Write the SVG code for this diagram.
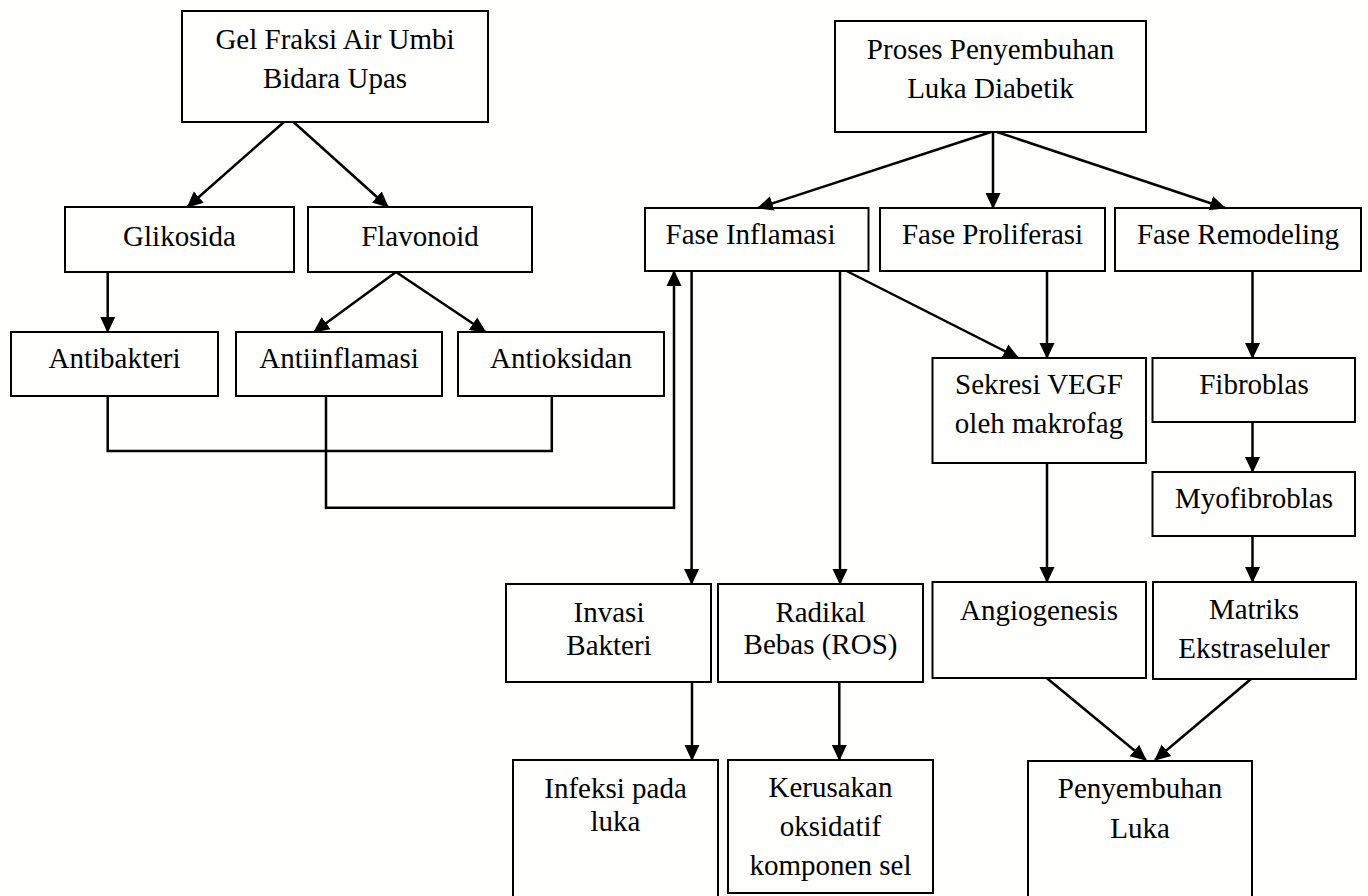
<svg xmlns="http://www.w3.org/2000/svg" width="1368" height="896" viewBox="0 0 1368 896">
  <defs>
    <marker id="arrow" markerUnits="userSpaceOnUse" markerWidth="16" markerHeight="16" refX="15" refY="8" orient="auto">
      <path d="M0,0.5 L16,8 L0,15.5 z" fill="#000"/>
    </marker>
    <style>
      .box { fill: none; stroke: #000; stroke-width: 2; }
      .lbl { font-family: "Liberation Serif", "Times New Roman", serif; font-size: 29px; fill: #000; text-anchor: middle; }
      .edge { fill: none; stroke: #000; stroke-width: 2.5; }
      .arr { marker-end: url(#arrow); }
    </style>
  </defs>
  <rect width="1368" height="896" fill="#fefefc"/>

  <!-- left branch: gel and its compounds -->
  <g id="gel">
    <rect class="box" x="182" y="11" width="306" height="111"/>
    <text class="lbl" x="335" y="49">Gel Fraksi Air Umbi</text>
    <text class="lbl" x="335" y="88">Bidara Upas</text>
  </g>
  <g id="glikosida">
    <rect class="box" x="65" y="207" width="229" height="65"/>
    <text class="lbl" x="179.5" y="246">Glikosida</text>
  </g>
  <g id="flavonoid">
    <rect class="box" x="308" y="207" width="224" height="65"/>
    <text class="lbl" x="420" y="246">Flavonoid</text>
  </g>
  <g id="antibakteri">
    <rect class="box" x="11" y="332" width="207" height="64"/>
    <text class="lbl" x="114.5" y="368">Antibakteri</text>
  </g>
  <g id="antiinflamasi">
    <rect class="box" x="236" y="332" width="206" height="64"/>
    <text class="lbl" x="339" y="368">Antiinflamasi</text>
  </g>
  <g id="antioksidan">
    <rect class="box" x="458" y="332" width="206" height="64"/>
    <text class="lbl" x="561" y="368">Antioksidan</text>
  </g>

  <!-- right branch: healing phases -->
  <g id="proses">
    <rect class="box" x="835" y="21" width="311" height="111"/>
    <text class="lbl" x="990.5" y="59">Proses Penyembuhan</text>
    <text class="lbl" x="990.5" y="98">Luka Diabetik</text>
  </g>
  <g id="fase-inflamasi">
    <rect class="box" x="645" y="208" width="223.5" height="63"/>
    <text class="lbl" x="750.5" y="244">Fase Inflamasi</text>
  </g>
  <g id="fase-proliferasi">
    <rect class="box" x="880" y="208" width="225" height="63"/>
    <text class="lbl" x="992.5" y="244">Fase Proliferasi</text>
  </g>
  <g id="fase-remodeling">
    <rect class="box" x="1115" y="208" width="246" height="63"/>
    <text class="lbl" x="1238" y="244">Fase Remodeling</text>
  </g>
  <g id="sekresi-vegf">
    <rect class="box" x="932.5" y="358" width="213.5" height="105"/>
    <text class="lbl" x="1039" y="394">Sekresi VEGF</text>
    <text class="lbl" x="1039" y="433">oleh makrofag</text>
  </g>
  <g id="fibroblas">
    <rect class="box" x="1152.5" y="358" width="202.5" height="64"/>
    <text class="lbl" x="1254" y="394">Fibroblas</text>
  </g>
  <g id="myofibroblas">
    <rect class="box" x="1152.5" y="472" width="202.5" height="64"/>
    <text class="lbl" x="1254" y="508">Myofibroblas</text>
  </g>
  <g id="invasi-bakteri">
    <rect class="box" x="506" y="584" width="205" height="98"/>
    <text class="lbl" x="609" y="622">Invasi</text>
    <text class="lbl" x="609" y="655">Bakteri</text>
  </g>
  <g id="radikal-bebas">
    <rect class="box" x="718" y="584" width="205" height="98"/>
    <text class="lbl" x="820.5" y="622">Radikal</text>
    <text class="lbl" x="820.5" y="654">Bebas (ROS)</text>
  </g>
  <g id="angiogenesis">
    <rect class="box" x="932.5" y="582" width="213.5" height="96"/>
    <text class="lbl" x="1039" y="620">Angiogenesis</text>
  </g>
  <g id="matriks">
    <rect class="box" x="1153" y="582" width="203" height="97"/>
    <text class="lbl" x="1254" y="619">Matriks</text>
    <text class="lbl" x="1254" y="658">Ekstraseluler</text>
  </g>
  <g id="infeksi">
    <rect class="box" x="513" y="760" width="205" height="150"/>
    <text class="lbl" x="615.5" y="798">Infeksi pada</text>
    <text class="lbl" x="615.5" y="831">luka</text>
  </g>
  <g id="kerusakan">
    <rect class="box" x="728" y="760" width="205" height="133"/>
    <text class="lbl" x="830.5" y="797">Kerusakan</text>
    <text class="lbl" x="830.5" y="836">oksidatif</text>
    <text class="lbl" x="830.5" y="875">komponen sel</text>
  </g>
  <g id="penyembuhan">
    <rect class="box" x="1028" y="761" width="224" height="150"/>
    <text class="lbl" x="1140" y="798">Penyembuhan</text>
    <text class="lbl" x="1140" y="838">Luka</text>
  </g>

  <g id="connectors">
    <line class="edge arr" x1="284" y1="122" x2="187.5" y2="207"/>
    <line class="edge arr" x1="293.5" y1="122" x2="388" y2="207"/>
    <line class="edge arr" x1="107.7" y1="272" x2="107.7" y2="332"/>
    <line class="edge arr" x1="396" y1="272" x2="314" y2="332"/>
    <line class="edge arr" x1="396" y1="272" x2="485.5" y2="332"/>
    <polyline class="edge" points="107.7,396 107.7,451 551.8,451 551.8,396"/>
    <polyline class="edge arr" points="326,396 326,507.7 674,507.7 674,271"/>

    <line class="edge arr" x1="991" y1="132" x2="758" y2="208"/>
    <line class="edge arr" x1="993" y1="132" x2="993" y2="208"/>
    <line class="edge arr" x1="997" y1="132" x2="1225" y2="208"/>

    <line class="edge arr" x1="691.6" y1="271" x2="691.6" y2="584"/>
    <line class="edge arr" x1="840" y1="271" x2="840" y2="584"/>
    <line class="edge arr" x1="846.6" y1="271" x2="1018.3" y2="358"/>
    <line class="edge arr" x1="1047" y1="271" x2="1047" y2="358"/>
    <line class="edge arr" x1="1252.5" y1="271" x2="1252.5" y2="358"/>
    <line class="edge arr" x1="1252.5" y1="422" x2="1252.5" y2="472"/>
    <line class="edge arr" x1="1252.5" y1="536" x2="1252.5" y2="582"/>
    <line class="edge arr" x1="1047" y1="463" x2="1047" y2="582"/>
    <line class="edge arr" x1="692" y1="682" x2="692" y2="760"/>
    <line class="edge arr" x1="839.3" y1="682" x2="839.3" y2="760"/>
    <line class="edge arr" x1="1046.7" y1="678" x2="1146" y2="760"/>
    <line class="edge arr" x1="1251" y1="679" x2="1155" y2="760"/>
  </g>
</svg>
